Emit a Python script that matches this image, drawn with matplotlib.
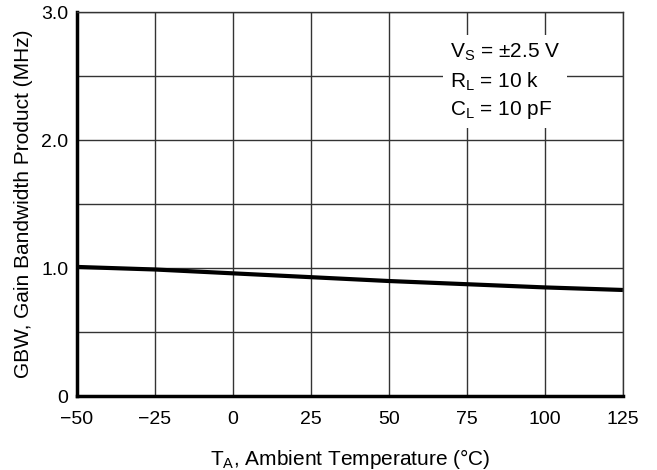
import matplotlib
matplotlib.use("Agg")
import matplotlib.pyplot as plt

# GBW vs ambient temperature
temp_c = [-50, -25, 0, 25, 50, 75, 100, 125]
gbw_mhz = [1.01, 0.99, 0.96, 0.93, 0.90, 0.875, 0.85, 0.83]

x_ticks = [-50, -25, 0, 25, 50, 75, 100, 125]
x_tick_labels = ["\u221250", "\u221225", "0", "25", "50", "75", "100", "125"]
y_ticks = [0, 0.5, 1.0, 1.5, 2.0, 2.5, 3.0]
y_tick_labels = ["0", "", "1.0", "", "2.0", "", "3.0"]

conditions = "V$_\\mathregular{S}$ = \u00b12.5 V\nR$_\\mathregular{L}$ = 10 k\nC$_\\mathregular{L}$ = 10 pF"

plt.rcParams['font.family'] = ['Liberation Sans', 'DejaVu Sans']
plt.rcParams['mathtext.fontset'] = 'custom'
plt.rcParams['mathtext.rm'] = 'Liberation Sans'

fig = plt.figure(figsize=(6.57, 4.70), dpi=100)
ax = fig.add_axes([0.117, 0.157, 0.831, 0.817])

ax.plot(temp_c, gbw_mhz, color='black', linewidth=3, solid_capstyle='butt', zorder=3)

ax.set_xlim(-50, 125)
ax.set_ylim(0, 3.0)
ax.set_xticks(x_ticks)
ax.set_xticklabels(x_tick_labels)
ax.set_yticks(y_ticks)
ax.set_yticklabels(y_tick_labels)
ax.tick_params(length=0, labelsize=14)
ax.tick_params(axis='x', pad=11)
ax.tick_params(axis='y', pad=6)
ax.grid(True, color='#333333', linewidth=1.0)

for side in ['left', 'bottom']:
    ax.spines[side].set_linewidth(2.5)
for side in ['top', 'right']:
    ax.spines[side].set_linewidth(1.0)
    ax.spines[side].set_color('#333333')

ax.set_xlabel("T$_\\mathregular{A}$, Ambient Temperature (\u00b0C)", fontsize=15, labelpad=13)
ax.set_ylabel("GBW, Gain Bandwidth Product (MHz)", fontsize=15, labelpad=6)

ax.text(69.5, 2.77, conditions, fontsize=15, va='top', ha='left', linespacing=1.4,
        bbox=dict(facecolor='white', edgecolor='none', pad=5), zorder=4)

fig.savefig("out.png", dpi=100)
